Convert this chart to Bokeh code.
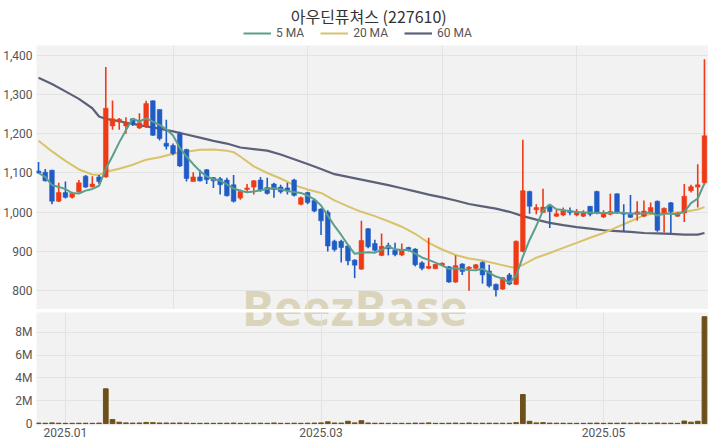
import pandas as pd
from bokeh.plotting import figure
from bokeh.layouts import column
from bokeh.models import (ColumnDataSource, FixedTicker, NumeralTickFormatter,
                          Range1d, Legend, LegendItem, Label, Grid)
from bokeh.embed import file_html
from bokeh.resources import INLINE
from bokeh.core.properties import value

# ---------------- data ----------------
opens = [1105, 1102, 1107, 1028, 1050, 1038, 1052, 1092, 1065, 1090,
         1090, 1220, 1230, 1220, 1238, 1215, 1219, 1284, 1262, 1176,
         1170, 1200, 1160, 1078, 1090, 1108, 1088, 1085, 1082, 1070,
         1036, 1058, 1064, 1082, 1063, 1072, 1064, 1062, 1082, 1020,
         1050, 1030, 1008, 1000, 926, 926, 914, 878, 855, 958,
         920, 890, 915, 903, 891, 910, 906, 871, 857, 856,
         865, 861, 822, 868, 856, 857, 872, 850, 816, 804,
         840, 816, 900, 1053, 1006, 999, 1018, 990, 993, 1004,
         993, 990, 1015, 1053, 988, 995, 1047, 999, 998, 995,
         990, 998, 1028, 998, 1024, 990, 998, 1055, 1064, 1075]
highs = [1128, 1110, 1108, 1075, 1078, 1052, 1082, 1095, 1092, 1095,
         1370, 1285, 1240, 1242, 1240, 1252, 1284, 1285, 1262, 1236,
         1175, 1205, 1162, 1102, 1108, 1110, 1090, 1090, 1088, 1095,
         1058, 1072, 1082, 1090, 1088, 1075, 1070, 1075, 1085, 1040,
         1052, 1035, 1010, 1005, 930, 930, 918, 880, 978, 960,
         930, 946, 922, 922, 920, 912, 908, 875, 935, 868,
         872, 863, 890, 870, 862, 868, 875, 866, 818, 835,
         845, 928, 1185, 1055, 1020, 1060, 1020, 1007, 1012, 1012,
         1008, 1005, 1016, 1055, 1005, 1047, 1048, 1020, 1044, 1028,
         1030, 1025, 1030, 1012, 1026, 1000, 1072, 1070, 1122, 1390]
lows = [1098, 1078, 1020, 1026, 1035, 1035, 1050, 1062, 1063, 1072,
        1088, 1210, 1210, 1200, 1220, 1212, 1215, 1195, 1183, 1160,
        1145, 1115, 1078, 1078, 1078, 1072, 1062, 1045, 1040, 1025,
        1032, 1050, 1045, 1052, 1045, 1037, 1048, 1045, 1040, 1018,
        1020, 1000, 942, 900, 900, 872, 865, 832, 853, 908,
        900, 888, 890, 888, 888, 900, 862, 852, 855, 855,
        862, 820, 820, 840, 800, 855, 818, 808, 785, 802,
        814, 815, 898, 996, 995, 998, 960, 988, 990, 992,
        990, 988, 990, 995, 985, 992, 996, 950, 985, 978,
        988, 995, 950, 948, 946, 988, 975, 1050, 1012, 1070]
closes = [1100, 1080, 1028, 1050, 1038, 1048, 1075, 1064, 1072, 1078,
          1265, 1238, 1237, 1228, 1225, 1228, 1277, 1196, 1188, 1168,
          1150, 1118, 1086, 1090, 1080, 1083, 1080, 1070, 1042, 1028,
          1053, 1062, 1080, 1056, 1048, 1058, 1052, 1056, 1043, 1037,
          1025, 1003, 978, 914, 905, 910, 876, 865, 928, 912,
          903, 913, 907, 892, 903, 905, 866, 857, 862, 867,
          870, 822, 864, 849, 860, 866, 840, 812, 802, 833,
          817, 926, 1055, 1015, 1012, 1013, 1002, 996, 1004, 999,
          1001, 998, 995, 998, 998, 1002, 999, 995, 987, 1001,
          1003, 1012, 954, 1010, 1001, 998, 1041, 1065, 1070, 1195]
# trading volume, millions of shares
volumes_m = [0.04, 0.03, 0.06, 0.03, 0.02, 0.02, 0.03, 0.03, 0.02, 0.04,
             3.05, 0.35, 0.12, 0.06, 0.04, 0.05, 0.10, 0.08, 0.05, 0.05,
             0.04, 0.05, 0.04, 0.02, 0.02, 0.03, 0.02, 0.03, 0.03, 0.04,
             0.02, 0.02, 0.03, 0.03, 0.02, 0.05, 0.02, 0.02, 0.03, 0.02,
             0.03, 0.04, 0.06, 0.15, 0.05, 0.04, 0.20, 0.06, 0.25, 0.05,
             0.03, 0.03, 0.02, 0.02, 0.02, 0.02, 0.04, 0.03, 0.06, 0.02,
             0.02, 0.03, 0.04, 0.02, 0.05, 0.02, 0.03, 0.03, 0.03, 0.03,
             0.03, 0.08, 2.55, 0.20, 0.06, 0.08, 0.04, 0.03, 0.03, 0.02,
             0.02, 0.02, 0.03, 0.04, 0.02, 0.03, 0.03, 0.04, 0.03, 0.05,
             0.03, 0.03, 0.05, 0.03, 0.03, 0.02, 0.22, 0.12, 0.20, 9.38]

ma20_idx = [0, 2, 4, 6, 8, 9, 10, 12, 14, 16, 18, 20, 22, 24, 26, 28, 29, 30, 32, 34,
            36, 38, 40, 42, 44, 46, 48, 50, 52, 54, 56, 58, 60, 62, 64, 66, 68, 70, 71,
            72, 74, 76, 78, 80, 82, 84, 86, 88, 90, 92, 94, 96, 98, 99]
ma20_val = [1182, 1155, 1131, 1109, 1096, 1095, 1103, 1111, 1121, 1134, 1140, 1149, 1154,
            1159, 1160, 1157, 1153, 1142, 1117, 1100, 1086, 1069, 1058, 1049, 1030, 1015,
            1001, 990, 977, 963, 945, 922, 905, 891, 882, 877, 869, 861, 858, 866, 884,
            896, 909, 922, 935, 947, 962, 977, 992, 998, 998, 1001, 1007, 1013]
ma60_idx = [0, 2, 4, 6, 8, 9, 10, 12, 14, 16, 18, 20, 22, 24, 26, 28, 30, 32, 34, 36,
            38, 40, 42, 44, 46, 48, 50, 52, 54, 56, 58, 60, 62, 64, 66, 68, 70, 72, 74,
            76, 78, 80, 82, 84, 86, 88, 90, 92, 94, 96, 98, 99]
ma60_val = [1343, 1327, 1308, 1289, 1265, 1244, 1238, 1232, 1225, 1219, 1213, 1206, 1198,
            1190, 1182, 1175, 1165, 1161, 1157, 1147, 1135, 1123, 1110, 1097, 1090, 1083,
            1076, 1069, 1061, 1053, 1045, 1038, 1030, 1021, 1015, 1009, 1001, 990, 981,
            973, 967, 962, 958, 954, 952, 950, 947, 946, 945, 943, 943, 947]

tick_idx = [4, 42, 84]
tick_labels = ["2025.01", "2025.03", "2025.05"]
price_ticks = [800, 900, 1000, 1100, 1200, 1300, 1400]
vol_ticks = [0, 2, 4, 6, 8]
vol_tick_labels = ["0", "2M", "4M", "6M", "8M"]
title_text = "아우딘퓨쳐스 (227610)"
ma_labels = ["5 MA", "20 MA", "60 MA"]

# ---------------- styling ----------------
RED = "#ee3a16"
BLUE = "#1f5cc6"
C5 = "#5c9e8c"
C20 = "#d8c36a"
C60 = "#5c6178"
VOLC = "#6b5119"
BG = "#f2f2f2"
GRID = "#e3e3e3"
WMC = "#d3cba9"
FONT = "Roboto"
W = 708
HH = 45          # header (title + legend)
PH = 264         # price panel
VH = 131         # volume panel incl. date axis
WM_X = 47.0      # watermark centre (in candle-index units)

df = pd.DataFrame({"open": opens, "high": highs, "low": lows, "close": closes,
                   "vol": volumes_m})
df["x"] = range(len(df))
df["top"] = df[["open", "close"]].max(axis=1)
df["bottom"] = df[["open", "close"]].min(axis=1)
df["color"] = [RED if c >= o else BLUE for o, c in zip(df["open"], df["close"])]
df["ma5"] = df["close"].rolling(5, min_periods=1).mean()
src = ColumnDataSource(df)

x_range = Range1d(-0.3, 99.6)


def common(fig):
    fig.background_fill_color = BG
    fig.border_fill_color = "white"
    fig.outline_line_color = None


def style_axis(ax, standoff):
    ax.axis_line_color = None
    ax.major_tick_line_color = None
    ax.minor_tick_line_color = None
    ax.major_tick_out = 0
    ax.major_tick_in = 0
    ax.major_label_standoff = standoff
    ax.major_label_text_font = FONT
    ax.major_label_text_font_size = "12px"
    ax.major_label_text_color = "#555555"


def set_grid(fig, dim, ticks):
    grids = fig.xgrid if dim == 0 else fig.ygrid
    if len(grids) == 0:
        g = Grid(dimension=dim, ticker=FixedTicker(ticks=ticks))
        fig.add_layout(g)
        grids = [g]
    for g in grids:
        g.ticker = FixedTicker(ticks=ticks)
        g.grid_line_color = GRID
        g.grid_line_width = 1


def watermark(fig, y, y_offset):
    fig.text(x=[WM_X], y=[y], text=["BeezBase"], text_font=value("Open Sans"),
             text_font_size="48px", text_font_style="bold", text_color=WMC,
             text_alpha=0.75, text_align="center", text_baseline="middle",
             y_offset=y_offset, level="underlay")


# ---------------- header: title + legend ----------------
h = figure(width=W, height=HH, x_range=Range1d(0, W), y_range=Range1d(0, HH),
           x_axis_location=None, y_axis_location=None, output_backend="svg",
           toolbar_location=None, min_border=0, outline_line_color=None,
           background_fill_color="white", border_fill_color="white")
h.grid.visible = False
h.add_layout(Label(x=350, y=HH - 15, text=title_text, text_align="center",
                   text_baseline="middle", text_font="Noto Sans CJK KR",
                   text_font_size="16px", text_color="#333333"))
d5 = h.line([0, 1], [-10, -10], line_color=C5, line_width=2)
d20 = h.line([0, 1], [-10, -10], line_color=C20, line_width=2)
d60 = h.line([0, 1], [-10, -10], line_color=C60, line_width=2.2)
legend = Legend(items=[LegendItem(label=ma_labels[0], renderers=[d5]),
                       LegendItem(label=ma_labels[1], renderers=[d20]),
                       LegendItem(label=ma_labels[2], renderers=[d60])],
                orientation="horizontal", location=(207, 5),
                label_text_font=FONT, label_text_font_size="12px",
                label_text_color="#555555", glyph_width=28, glyph_height=12,
                label_standoff=5, spacing=16, padding=0, margin=0,
                label_height=12, border_line_color=None,
                background_fill_alpha=0)
h.add_layout(legend)

# ---------------- price panel ----------------
p = figure(width=W, height=PH, x_range=x_range, y_range=Range1d(752, 1425),
           x_axis_location=None, output_backend="svg", toolbar_location=None,
           min_border_left=32, min_border_right=0, min_border_top=0,
           min_border_bottom=0)
common(p)
set_grid(p, 0, [20, 40, 60, 80])
set_grid(p, 1, price_ticks)
p.yaxis.ticker = FixedTicker(ticks=price_ticks)
p.yaxis.formatter = NumeralTickFormatter(format="0,0")
style_axis(p.yaxis, 4)

# watermark, upper half (centre just inside the frame bottom)
watermark(p, p.y_range.start + 4, 0)

p.line(ma60_idx, ma60_val, line_color=C60, line_width=2.2)
p.line(ma20_idx, ma20_val, line_color=C20, line_width=2)
p.segment(x0="x", y0="low", x1="x", y1="high", color="color", line_width=1.6,
          source=src)
p.vbar(x="x", width=0.7, top="top", bottom="bottom", fill_color="color",
       line_color="color", line_width=0.5, source=src)
p.line("x", "ma5", line_color=C5, line_width=2, source=src)

# ---------------- volume panel ----------------
v = figure(width=W, height=VH, x_range=x_range, y_range=Range1d(-0.17, 9.75),
           output_backend="svg", toolbar_location=None, min_border_left=32,
           min_border_right=0, min_border_top=3, min_border_bottom=15)
common(v)
# watermark, lower half: anchored inside the frame, shifted up to line up
watermark(v, 8.6, -17.6)
v.vbar(x="x", width=0.7, top="vol", bottom=0, fill_color=VOLC,
       line_color=VOLC, source=src)
v.xaxis.ticker = FixedTicker(ticks=tick_idx)
v.xaxis.major_label_overrides = dict(zip(tick_idx, tick_labels))
v.yaxis.ticker = FixedTicker(ticks=vol_ticks)
v.yaxis.major_label_overrides = dict(zip(vol_ticks, vol_tick_labels))
style_axis(v.xaxis, 2)
style_axis(v.yaxis, 4)
set_grid(v, 0, tick_idx)
set_grid(v, 1, vol_ticks)

layout = column(h, p, v, spacing=0)
open("out.html", "w").write(file_html(layout, INLINE))
